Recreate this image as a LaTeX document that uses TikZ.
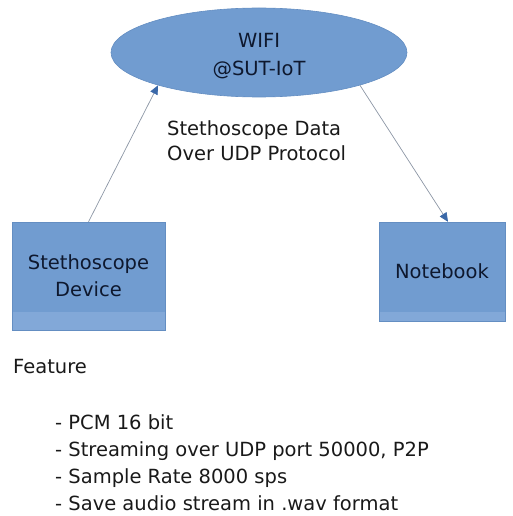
\documentclass[tikz,border=0pt]{standalone}
\usepackage{fontspec}
\setmainfont{DejaVu Sans}
\usepackage{xcolor}
\usetikzlibrary{shapes.geometric,arrows.meta}
\definecolor{boxblue}{RGB}{113,156,208}
\definecolor{stripblue}{RGB}{130,168,216}
\definecolor{edgeblue}{RGB}{100,142,194}
\definecolor{tipblue}{RGB}{58,104,168}
\definecolor{linegray}{RGB}{140,150,165}
\definecolor{inktext}{RGB}{14,24,46}
\begin{document}
\begin{tikzpicture}[x=1pt,y=-1pt,
  every node/.style={font=\fontsize{19.5}{25}\selectfont},
  cloudnode/.style={ellipse,fill=boxblue,draw=edgeblue,line width=0.6pt,
    minimum width=296pt,minimum height=89pt,inner sep=0pt},
  devbox/.style={rectangle,fill=boxblue,draw=edgeblue,line width=0.4pt,
    inner sep=0pt,align=center,text=inktext,
    path picture={\fill[stripblue] (path picture bounding box.south west)
      rectangle ([yshift=#1]path picture bounding box.south east);}},
  link/.style={draw=linegray,line width=0.7pt,
    -{Triangle[length=9pt,width=8pt,color=tipblue,fill=tipblue]}},
  plain/.style={text=black!90,align=left,inner sep=0pt}]
\useasboundingbox (0,0) rectangle (513,516);
\node[cloudnode] (wifi) at (259,52.5) {};
\node[align=center,text=inktext,font=\fontsize{19.5}{28}\selectfont] (wifitext) at (259,56) {WIFI\\@SUT-IoT};
\node[devbox=18pt,minimum width=153pt,minimum height=108pt,font=\fontsize{19.5}{27}\selectfont] (steth) at (88.5,276) {Stethoscope\\Device};
\node[devbox=9pt,minimum width=126pt,minimum height=99pt] (nbook) at (442,271.5) {Notebook};
\node[plain,anchor=west] (proto) at (167,140.5) {Stethoscope Data\\Over UDP Protocol};
\draw[link] (steth.north) -- (wifi.198);
\draw[link] (wifi.342) -- ([xshift=6pt]nbook.north);
\node[plain,anchor=west] (feat) at (13,367) {Feature};
\node[plain,anchor=west,font=\fontsize{19.5}{27}\selectfont] (list) at (55,462.5)
  {- PCM 16 bit\\- Streaming over UDP port 50000, P2P\\- Sample Rate 8000 sps\\- Save audio stream in .wav format};
\end{tikzpicture}
\end{document}
